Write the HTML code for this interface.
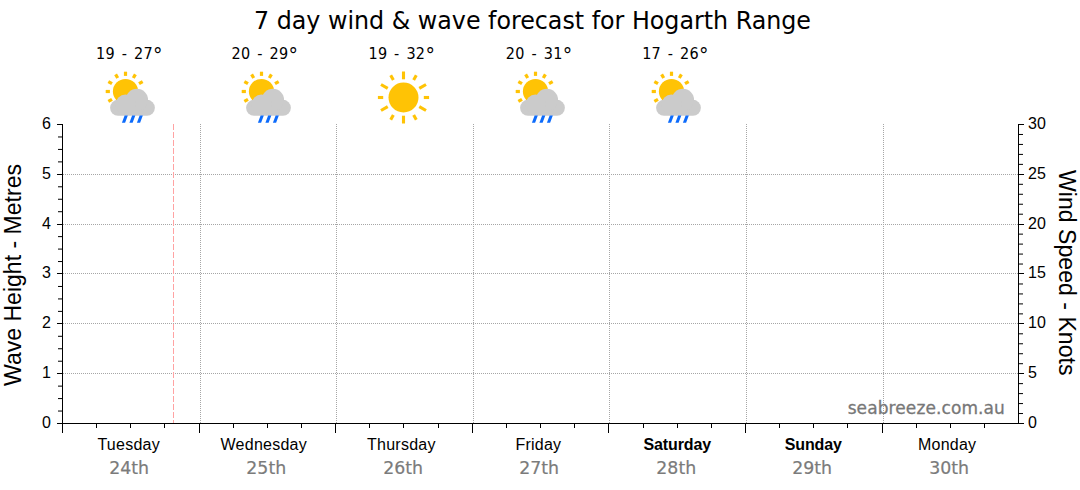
<!DOCTYPE html>
<html lang="en"><head><meta charset="utf-8"><title>7 day wind &amp; wave forecast for Hogarth Range</title>
<style>
html,body{margin:0;padding:0;background:#fff;}
body{width:1080px;height:490px;overflow:hidden;}
svg{display:block;}
.ax{font-family:'Liberation Sans', Arial, Helvetica, sans-serif;font-size:16px;fill:#000;}
.axt{font-family:'Liberation Sans', Arial, Helvetica, sans-serif;font-size:23px;fill:#000;}
.day{font-family:'Liberation Sans', Arial, Helvetica, sans-serif;font-size:16px;fill:#000;letter-spacing:0.25px;}
.dayb{font-family:'Liberation Sans', Arial, Helvetica, sans-serif;font-size:16px;font-weight:bold;fill:#000;letter-spacing:-0.1px;}
.date{font-family:'DejaVu Sans', Verdana, 'Liberation Sans', sans-serif;font-size:17.33px;fill:#7b7b7b;stroke:#7b7b7b;stroke-width:0.2px;}
.temp{font-family:'DejaVu Sans Condensed', 'DejaVu Sans', Tahoma, 'Liberation Sans', sans-serif;font-size:16px;fill:#000;letter-spacing:0.3px;word-spacing:1.9px;}
.wm{font-family:'DejaVu Sans', Verdana, 'Liberation Sans', sans-serif;font-size:17px;fill:#777;stroke:#777;stroke-width:0.3px;letter-spacing:0.1px;}
.title{font-family:'DejaVu Sans Condensed', 'DejaVu Sans', Tahoma, 'Liberation Sans', sans-serif;font-size:25.5px;fill:#000;}
</style></head><body>
<svg width="1080" height="490" viewBox="0 0 1080 490">
<rect width="1080" height="490" fill="#fff"/>
<defs>
<g id="sun"><circle cx="0" cy="0" r="15" fill="#ffc305"/><line x1="20.30" y1="-0.00" x2="25.60" y2="-0.00" stroke="#ffc305" stroke-width="3.1"/><line x1="15.76" y1="-9.10" x2="22.52" y2="-13.00" stroke="#ffc305" stroke-width="3.1"/><line x1="10.15" y1="-17.58" x2="12.80" y2="-22.17" stroke="#ffc305" stroke-width="3.1"/><line x1="0.00" y1="-18.20" x2="0.00" y2="-26.00" stroke="#ffc305" stroke-width="3.1"/><line x1="-10.15" y1="-17.58" x2="-12.80" y2="-22.17" stroke="#ffc305" stroke-width="3.1"/><line x1="-15.76" y1="-9.10" x2="-22.52" y2="-13.00" stroke="#ffc305" stroke-width="3.1"/><line x1="-20.30" y1="-0.00" x2="-25.60" y2="-0.00" stroke="#ffc305" stroke-width="3.1"/><line x1="-15.76" y1="9.10" x2="-22.52" y2="13.00" stroke="#ffc305" stroke-width="3.1"/><line x1="-10.15" y1="17.58" x2="-12.80" y2="22.17" stroke="#ffc305" stroke-width="3.1"/><line x1="-0.00" y1="18.20" x2="-0.00" y2="26.00" stroke="#ffc305" stroke-width="3.1"/><line x1="10.15" y1="17.58" x2="12.80" y2="22.17" stroke="#ffc305" stroke-width="3.1"/><line x1="15.76" y1="9.10" x2="22.52" y2="13.00" stroke="#ffc305" stroke-width="3.1"/></g>
<g id="pcr"><circle cx="0" cy="0" r="12.6" fill="#ffc305"/><line x1="13.51" y1="-7.80" x2="17.15" y2="-9.90" stroke="#ffc305" stroke-width="3.2"/><line x1="7.80" y1="-13.51" x2="9.90" y2="-17.15" stroke="#ffc305" stroke-width="3.2"/><line x1="0.00" y1="-15.60" x2="0.00" y2="-19.80" stroke="#ffc305" stroke-width="3.2"/><line x1="-7.80" y1="-13.51" x2="-9.90" y2="-17.15" stroke="#ffc305" stroke-width="3.2"/><line x1="-13.51" y1="-7.80" x2="-17.15" y2="-9.90" stroke="#ffc305" stroke-width="3.2"/><line x1="-15.60" y1="-0.00" x2="-19.80" y2="-0.00" stroke="#ffc305" stroke-width="3.2"/><line x1="-13.51" y1="7.80" x2="-17.15" y2="9.90" stroke="#ffc305" stroke-width="3.2"/><g fill="#cbcbcb"><rect x="-15.40" y="8.35" width="44.8" height="15.9" rx="7.95" ry="7.95"/><circle cx="11.40" cy="8.40" r="11.15"/><circle cx="0.00" cy="13.00" r="10.0"/></g><polygon points="-0.90,24.10 2.30,24.10 -0.40,31.30 -3.60,31.30" fill="#0d6bfb"/><polygon points="6.60,24.10 9.80,24.10 7.10,31.30 3.90,31.30" fill="#0d6bfb"/><polygon points="14.10,24.10 17.30,24.10 14.60,31.30 11.40,31.30" fill="#0d6bfb"/></g>
</defs>
<g shape-rendering="crispEdges" fill="none" stroke-width="1">
<line x1="63" y1="373.5" x2="1018" y2="373.5" stroke="#a6a6a6" stroke-dasharray="1 1"/>
<line x1="63" y1="323.5" x2="1018" y2="323.5" stroke="#a6a6a6" stroke-dasharray="1 1"/>
<line x1="63" y1="273.5" x2="1018" y2="273.5" stroke="#a6a6a6" stroke-dasharray="1 1"/>
<line x1="63" y1="224.5" x2="1018" y2="224.5" stroke="#a6a6a6" stroke-dasharray="1 1"/>
<line x1="63" y1="174.5" x2="1018" y2="174.5" stroke="#a6a6a6" stroke-dasharray="1 1"/>
<line x1="200.5" y1="124" x2="200.5" y2="423" stroke="#a6a6a6" stroke-dasharray="1 1"/>
<line x1="336.5" y1="124" x2="336.5" y2="423" stroke="#a6a6a6" stroke-dasharray="1 1"/>
<line x1="473.5" y1="124" x2="473.5" y2="423" stroke="#a6a6a6" stroke-dasharray="1 1"/>
<line x1="609.5" y1="124" x2="609.5" y2="423" stroke="#a6a6a6" stroke-dasharray="1 1"/>
<line x1="746.5" y1="124" x2="746.5" y2="423" stroke="#a6a6a6" stroke-dasharray="1 1"/>
<line x1="883.5" y1="124" x2="883.5" y2="423" stroke="#a6a6a6" stroke-dasharray="1 1"/>
<line x1="173.5" y1="124" x2="173.5" y2="423" stroke="#ffa3a3" stroke-dasharray="6 2"/>
</g>
<g shape-rendering="crispEdges" fill="#000">
<rect x="62" y="124" width="1" height="300"/>
<rect x="1018" y="124" width="1" height="300"/>
<rect x="57" y="423" width="967" height="1"/>
<rect x="57" y="423" width="5" height="1"/>
<rect x="57" y="373" width="5" height="1"/>
<rect x="57" y="323" width="5" height="1"/>
<rect x="57" y="273" width="5" height="1"/>
<rect x="57" y="224" width="5" height="1"/>
<rect x="57" y="174" width="5" height="1"/>
<rect x="57" y="124" width="5" height="1"/>
</g><g fill="#000">
<rect x="58" y="410.54" width="4" height="1"/>
<rect x="58" y="398.08" width="4" height="1"/>
<rect x="58" y="385.62" width="4" height="1"/>
<rect x="58" y="360.71" width="4" height="1"/>
<rect x="58" y="348.25" width="4" height="1"/>
<rect x="58" y="335.79" width="4" height="1"/>
<rect x="58" y="310.88" width="4" height="1"/>
<rect x="58" y="298.42" width="4" height="1"/>
<rect x="58" y="285.96" width="4" height="1"/>
<rect x="58" y="261.04" width="4" height="1"/>
<rect x="58" y="248.58" width="4" height="1"/>
<rect x="58" y="236.12" width="4" height="1"/>
<rect x="58" y="211.21" width="4" height="1"/>
<rect x="58" y="198.75" width="4" height="1"/>
<rect x="58" y="186.29" width="4" height="1"/>
<rect x="58" y="161.38" width="4" height="1"/>
<rect x="58" y="148.92" width="4" height="1"/>
<rect x="58" y="136.46" width="4" height="1"/>
</g><g fill="#000">
<rect x="1019" y="423" width="5" height="1" shape-rendering="crispEdges"/>
<rect x="1019" y="413.03" width="4" height="1"/>
<rect x="1019" y="403.07" width="4" height="1"/>
<rect x="1019" y="393.10" width="4" height="1"/>
<rect x="1019" y="383.13" width="4" height="1"/>
<rect x="1019" y="373" width="5" height="1" shape-rendering="crispEdges"/>
<rect x="1019" y="363.20" width="4" height="1"/>
<rect x="1019" y="353.23" width="4" height="1"/>
<rect x="1019" y="343.27" width="4" height="1"/>
<rect x="1019" y="333.30" width="4" height="1"/>
<rect x="1019" y="323" width="5" height="1" shape-rendering="crispEdges"/>
<rect x="1019" y="313.37" width="4" height="1"/>
<rect x="1019" y="303.40" width="4" height="1"/>
<rect x="1019" y="293.43" width="4" height="1"/>
<rect x="1019" y="283.47" width="4" height="1"/>
<rect x="1019" y="273" width="5" height="1" shape-rendering="crispEdges"/>
<rect x="1019" y="263.53" width="4" height="1"/>
<rect x="1019" y="253.57" width="4" height="1"/>
<rect x="1019" y="243.60" width="4" height="1"/>
<rect x="1019" y="233.63" width="4" height="1"/>
<rect x="1019" y="224" width="5" height="1" shape-rendering="crispEdges"/>
<rect x="1019" y="213.70" width="4" height="1"/>
<rect x="1019" y="203.73" width="4" height="1"/>
<rect x="1019" y="193.77" width="4" height="1"/>
<rect x="1019" y="183.80" width="4" height="1"/>
<rect x="1019" y="174" width="5" height="1" shape-rendering="crispEdges"/>
<rect x="1019" y="163.87" width="4" height="1"/>
<rect x="1019" y="153.90" width="4" height="1"/>
<rect x="1019" y="143.93" width="4" height="1"/>
<rect x="1019" y="133.97" width="4" height="1"/>
<rect x="1019" y="124" width="5" height="1" shape-rendering="crispEdges"/>
</g><g shape-rendering="crispEdges" fill="#000">
<rect x="62" y="423" width="1" height="10"/>
<rect x="96" y="423" width="1" height="5"/>
<rect x="130" y="423" width="1" height="5"/>
<rect x="164" y="423" width="1" height="5"/>
<rect x="199" y="423" width="1" height="10"/>
<rect x="233" y="423" width="1" height="5"/>
<rect x="267" y="423" width="1" height="5"/>
<rect x="301" y="423" width="1" height="5"/>
<rect x="335" y="423" width="1" height="10"/>
<rect x="369" y="423" width="1" height="5"/>
<rect x="403" y="423" width="1" height="5"/>
<rect x="438" y="423" width="1" height="5"/>
<rect x="472" y="423" width="1" height="10"/>
<rect x="506" y="423" width="1" height="5"/>
<rect x="540" y="423" width="1" height="5"/>
<rect x="574" y="423" width="1" height="5"/>
<rect x="608" y="423" width="1" height="10"/>
<rect x="643" y="423" width="1" height="5"/>
<rect x="677" y="423" width="1" height="5"/>
<rect x="711" y="423" width="1" height="5"/>
<rect x="745" y="423" width="1" height="10"/>
<rect x="779" y="423" width="1" height="5"/>
<rect x="813" y="423" width="1" height="5"/>
<rect x="847" y="423" width="1" height="5"/>
<rect x="882" y="423" width="1" height="10"/>
<rect x="916" y="423" width="1" height="5"/>
<rect x="950" y="423" width="1" height="5"/>
<rect x="984" y="423" width="1" height="5"/>
</g>
<text class="ax" x="51" y="427.9" text-anchor="end">0</text>
<text class="ax" x="51" y="377.9" text-anchor="end">1</text>
<text class="ax" x="51" y="327.9" text-anchor="end">2</text>
<text class="ax" x="51" y="277.9" text-anchor="end">3</text>
<text class="ax" x="51" y="228.9" text-anchor="end">4</text>
<text class="ax" x="51" y="178.9" text-anchor="end">5</text>
<text class="ax" x="51" y="128.9" text-anchor="end">6</text>
<text class="ax" x="1028" y="427.9">0</text>
<text class="ax" x="1028" y="377.9">5</text>
<text class="ax" x="1028" y="327.9">10</text>
<text class="ax" x="1028" y="277.9">15</text>
<text class="ax" x="1028" y="228.9">20</text>
<text class="ax" x="1028" y="178.9">25</text>
<text class="ax" x="1028" y="128.9">30</text>
<text class="axt" transform="translate(21.2 386) rotate(-90)" textLength="222" lengthAdjust="spacingAndGlyphs">Wave Height - Metres</text>
<text class="axt" transform="translate(1059.3 170) rotate(90)" textLength="205.5" lengthAdjust="spacingAndGlyphs">Wind Speed - Knots</text>
<text class="title" x="254" y="29.2" textLength="557" lengthAdjust="spacingAndGlyphs">7 day wind &amp; wave forecast for Hogarth Range</text>
<text class="day" x="128.70" y="450" text-anchor="middle">Tuesday</text>
<text class="date" x="129.20" y="473.6" text-anchor="middle">24th</text>
<text class="day" x="263.75" y="450" text-anchor="middle">Wednesday</text>
<text class="date" x="266.25" y="473.6" text-anchor="middle">25th</text>
<text class="day" x="401.38" y="450" text-anchor="middle">Thursday</text>
<text class="date" x="403.12" y="473.6" text-anchor="middle">26th</text>
<text class="day" x="538.38" y="450" text-anchor="middle">Friday</text>
<text class="date" x="539.12" y="473.6" text-anchor="middle">27th</text>
<text class="dayb" x="677.25" y="450" text-anchor="middle">Saturday</text>
<text class="date" x="676.25" y="473.6" text-anchor="middle">28th</text>
<text class="dayb" x="813.25" y="450" text-anchor="middle">Sunday</text>
<text class="date" x="812.12" y="473.6" text-anchor="middle">29th</text>
<text class="day" x="947.12" y="450" text-anchor="middle">Monday</text>
<text class="date" x="949.12" y="473.6" text-anchor="middle">30th</text>
<text class="temp" x="129.38" y="59.2" text-anchor="middle">19 - 27<tspan font-size="21" dy="3.7" dx="0.1">°</tspan></text>
<use href="#pcr" x="125.5" y="91.5"/>
<text class="temp" x="264.88" y="59.2" text-anchor="middle">20 - 29<tspan font-size="21" dy="3.7" dx="0.1">°</tspan></text>
<use href="#pcr" x="261.5" y="91.5"/>
<text class="temp" x="401.80" y="59.2" text-anchor="middle">19 - 32<tspan font-size="21" dy="3.7" dx="0.1">°</tspan></text>
<use href="#sun" x="403.5" y="97.5"/>
<text class="temp" x="539.12" y="59.2" text-anchor="middle">20 - 31<tspan font-size="21" dy="3.7" dx="0.1">°</tspan></text>
<use href="#pcr" x="535.5" y="91.5"/>
<text class="temp" x="675.50" y="59.2" text-anchor="middle">17 - 26<tspan font-size="21" dy="3.7" dx="0.1">°</tspan></text>
<use href="#pcr" x="671.5" y="91.5"/>
<text class="wm" x="1005" y="413.6" text-anchor="end">seabreeze.com.au</text>
</svg></body></html>
